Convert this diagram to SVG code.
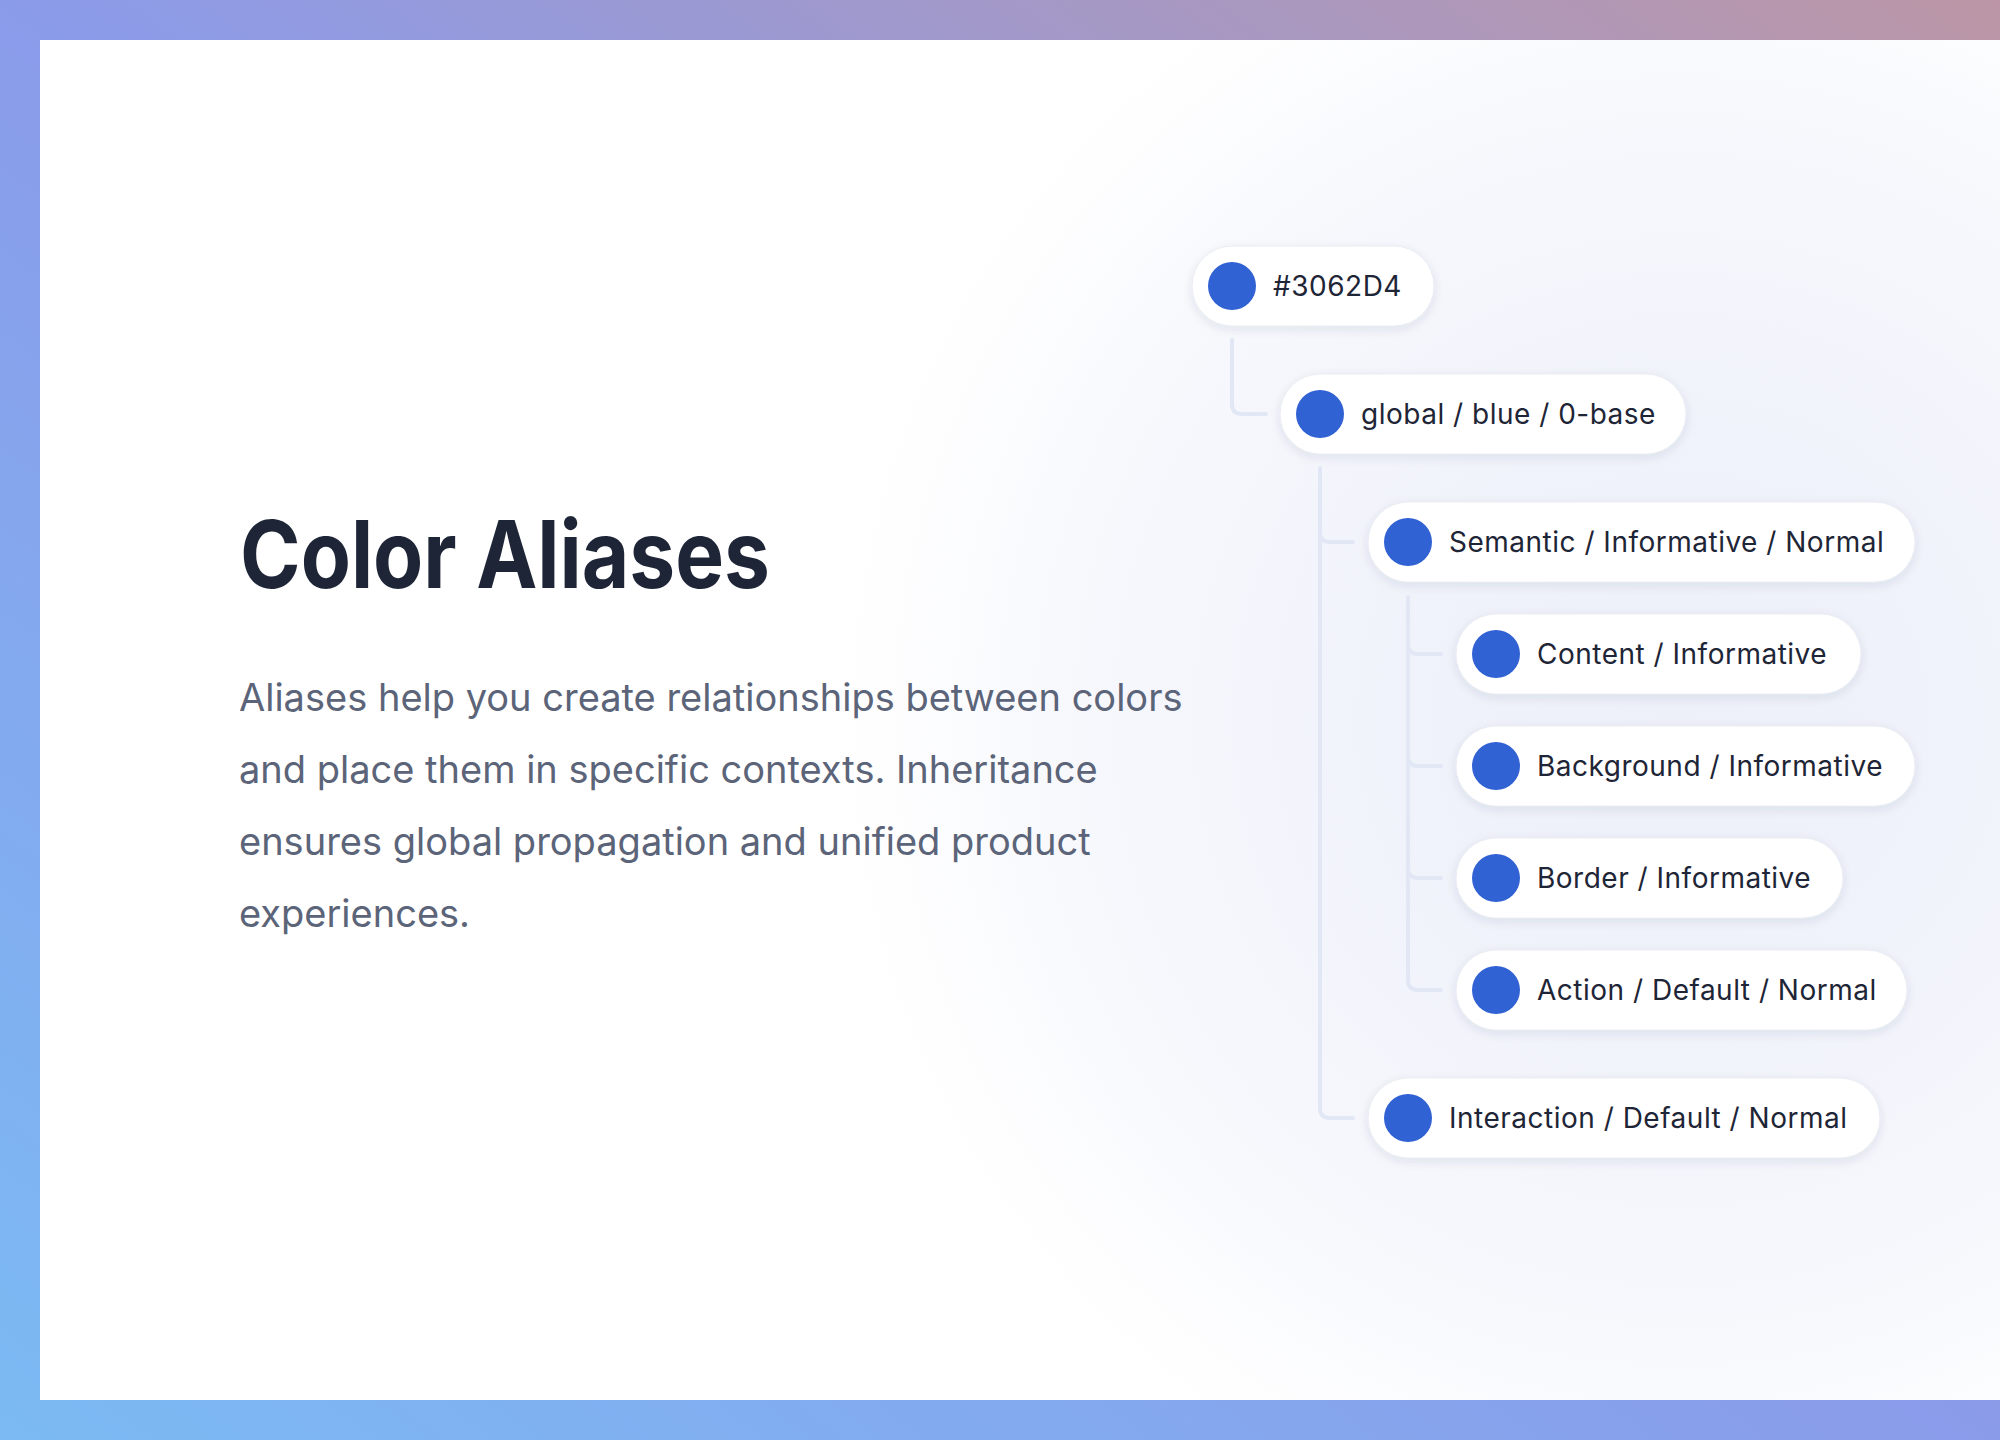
<svg xmlns="http://www.w3.org/2000/svg" width="2000" height="1440" viewBox="0 0 2000 1440">
  <defs>
    <linearGradient id="frame" x1="0" y1="1" x2="1" y2="0">
      <stop offset="0" stop-color="#7BBAF3"/>
      <stop offset="0.5" stop-color="#8A9BEA"/>
      <stop offset="1" stop-color="#BC96A6"/>
    </linearGradient>
    <radialGradient id="glow" cx="1680" cy="720" r="920" gradientUnits="userSpaceOnUse">
      <stop offset="0" stop-color="#EDF0F9"/>
      <stop offset="0.35" stop-color="#F1F3FB"/>
      <stop offset="0.7" stop-color="#F8F9FD"/>
      <stop offset="1" stop-color="#FFFFFF" stop-opacity="0"/>
    </radialGradient>
    <filter id="shadow" x="-20%" y="-40%" width="140%" height="190%">
      <feDropShadow dx="0" dy="3" stdDeviation="5" flood-color="#1E2A55" flood-opacity="0.10"/>
    </filter>
  </defs>
  <style>
    .pill { fill: #FFFFFF; stroke: #E9ECF3; stroke-width: 1; filter: url(#shadow); }
    .dot { fill: #3062D4; }
    .lbl { font-family: Inter, "Noto Sans", "Liberation Sans", sans-serif; font-size: 28px; fill: #1E2536; letter-spacing: 0.5px; }
    .conn { fill: none; stroke: #E1E7F5; stroke-width: 4; stroke-linecap: round; stroke-linejoin: round; }
    .title { font-family: Inter, "Liberation Sans", sans-serif; font-size: 94px; font-weight: 700; fill: #1E2536; }
    .body { font-family: Inter, "Liberation Sans", sans-serif; font-size: 38px; fill: #5B6478; }
  </style>

  <rect x="0" y="0" width="2000" height="1440" fill="url(#frame)"/>
  <rect x="40" y="40" width="1960" height="1360" fill="#FFFFFF"/>
  <rect x="40" y="40" width="1960" height="1360" fill="url(#glow)"/>

  <g id="heading">
    <text class="title" x="240" y="588" textLength="530" lengthAdjust="spacingAndGlyphs">Color Aliases</text>
    <text class="body" x="239" y="711">Aliases help you create relationships between colors</text>
    <text class="body" x="239" y="783">and place them in specific contexts. Inheritance</text>
    <text class="body" x="239" y="855">ensures global propagation and unified product</text>
    <text class="body" x="239" y="927">experiences.</text>
  </g>

  <g id="connectors">
    <path class="conn" d="M1232,340 V404 Q1232,414 1242,414 H1266"/>
    <path class="conn" d="M1320,468 V1108 Q1320,1118 1330,1118 H1353"/>
    <path class="conn" d="M1320,532 Q1320,542 1330,542 H1353"/>
    <path class="conn" d="M1408,597 V980 Q1408,990 1418,990 H1441"/>
    <path class="conn" d="M1408,644 Q1408,654 1418,654 H1441"/>
    <path class="conn" d="M1408,756 Q1408,766 1418,766 H1441"/>
    <path class="conn" d="M1408,868 Q1408,878 1418,878 H1441"/>
  </g>

  <g id="node-hex">
    <rect class="pill" x="1192" y="246" width="242" height="80" rx="40"/>
    <circle class="dot" cx="1232" cy="286" r="24"/>
    <text class="lbl" x="1273" y="296">#3062D4</text>
  </g>
  <g id="node-global">
    <rect class="pill" x="1280" y="374" width="406" height="80" rx="40"/>
    <circle class="dot" cx="1320" cy="414" r="24"/>
    <text class="lbl" x="1361" y="424">global / blue / 0-base</text>
  </g>
  <g id="node-semantic">
    <rect class="pill" x="1368" y="502" width="547" height="80" rx="40"/>
    <circle class="dot" cx="1408" cy="542" r="24"/>
    <text class="lbl" x="1449" y="552">Semantic / Informative / Normal</text>
  </g>
  <g id="node-content">
    <rect class="pill" x="1456" y="614" width="405" height="80" rx="40"/>
    <circle class="dot" cx="1496" cy="654" r="24"/>
    <text class="lbl" x="1537" y="664">Content / Informative</text>
  </g>
  <g id="node-background">
    <rect class="pill" x="1456" y="726" width="459" height="80" rx="40"/>
    <circle class="dot" cx="1496" cy="766" r="24"/>
    <text class="lbl" x="1537" y="776">Background / Informative</text>
  </g>
  <g id="node-border">
    <rect class="pill" x="1456" y="838" width="387" height="80" rx="40"/>
    <circle class="dot" cx="1496" cy="878" r="24"/>
    <text class="lbl" x="1537" y="888">Border / Informative</text>
  </g>
  <g id="node-action">
    <rect class="pill" x="1456" y="950" width="451" height="80" rx="40"/>
    <circle class="dot" cx="1496" cy="990" r="24"/>
    <text class="lbl" x="1537" y="1000">Action / Default / Normal</text>
  </g>
  <g id="node-interaction">
    <rect class="pill" x="1368" y="1078" width="512" height="80" rx="40"/>
    <circle class="dot" cx="1408" cy="1118" r="24"/>
    <text class="lbl" x="1449" y="1128">Interaction / Default / Normal</text>
  </g>
</svg>
